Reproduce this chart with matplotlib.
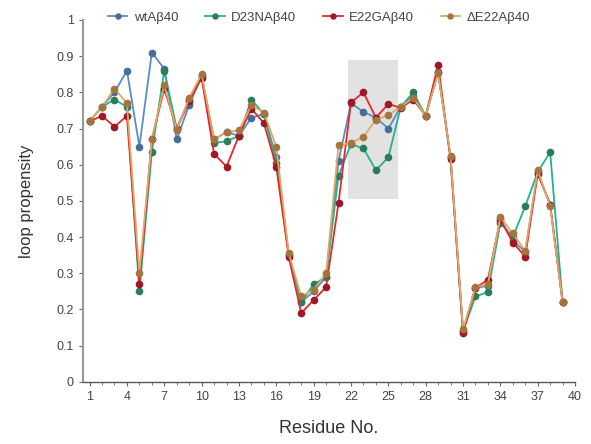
import matplotlib
matplotlib.use("Agg")
import matplotlib.pyplot as plt
from matplotlib.patches import Rectangle
from matplotlib.ticker import MultipleLocator

plt.rcParams["font.family"] = ["Liberation Sans", "DejaVu Sans"]

residues = list(range(1, 40))

wt = [0.72, 0.76, 0.80, 0.86, 0.65, 0.91, 0.865, 0.67, 0.765, 0.845,
      0.67, 0.69, 0.68, 0.73, 0.74, 0.62, 0.35, 0.22, 0.25, 0.29,
      0.61, 0.77, 0.746, 0.73, 0.70, 0.76, 0.79, 0.735, 0.855, 0.62,
      0.14, 0.26, 0.265, 0.445, 0.39, 0.36, 0.58, 0.49, 0.22]

d23n = [0.72, 0.76, 0.78, 0.76, 0.25, 0.635, 0.86, 0.70, 0.78, 0.845,
        0.66, 0.665, 0.68, 0.78, 0.74, 0.605, 0.35, 0.22, 0.27, 0.29,
        0.57, 0.657, 0.645, 0.585, 0.62, 0.76, 0.80, 0.735, 0.855, 0.62,
        0.14, 0.236, 0.248, 0.44, 0.40, 0.485, 0.58, 0.635, 0.22]

e22g = [0.72, 0.735, 0.705, 0.735, 0.27, 0.67, 0.81, 0.70, 0.775, 0.84,
        0.63, 0.595, 0.68, 0.755, 0.715, 0.595, 0.345, 0.19, 0.226, 0.262,
        0.495, 0.772, 0.80, 0.73, 0.768, 0.757, 0.78, 0.735, 0.876, 0.615,
        0.135, 0.26, 0.282, 0.45, 0.385, 0.346, 0.575, 0.49, 0.22]

de22 = [0.72, 0.76, 0.81, 0.77, 0.30, 0.67, 0.82, 0.696, 0.785, 0.85,
        0.67, 0.69, 0.695, 0.765, 0.744, 0.65, 0.355, 0.236, 0.255, 0.30,
        0.655, 0.66, 0.677, 0.724, 0.737, 0.76, 0.785, 0.735, 0.853, 0.625,
        0.145, 0.262, 0.27, 0.455, 0.41, 0.362, 0.585, 0.485, 0.22]

labels = ["wtAβ40", "D23NAβ40", "E22GAβ40", "ΔE22Aβ40"]
line_colors = ["#5b8cc6", "#22b48a", "#e8262a", "#e2a865"]
marker_colors = ["#476e98", "#2c7c5a", "#9c1a27", "#a6743f"]

fig = plt.figure(figsize=(5.91, 4.44), dpi=100)
ax = fig.add_axes([0.14, 0.14, 0.833, 0.815])

# highlighted region around residues 22-25
ax.add_patch(Rectangle((21.8, 0.505), 3.95, 0.385, facecolor="#e2e2e2",
                       edgecolor="none", zorder=0))

series = [wt, d23n, e22g, de22]
for vals, lab, lc, mc in zip(series, labels, line_colors, marker_colors):
    ax.plot(residues, vals, color=lc, linewidth=1.3, marker="o",
            markersize=4.5, markerfacecolor=mc, markeredgecolor=mc,
            label=lab, zorder=2)

ax.set_xlim(0.45, 40)
ax.set_ylim(0, 1)
ax.set_xticks(list(range(1, 41, 3)))
ax.xaxis.set_minor_locator(MultipleLocator(1))
ax.set_yticks([i / 10 for i in range(11)])
ax.set_yticklabels(["0", "0.1", "0.2", "0.3", "0.4", "0.5", "0.6",
                    "0.7", "0.8", "0.9", "1"])

for s in ["top", "right"]:
    ax.spines[s].set_visible(False)
ax.spines["left"].set_color("#999999")
ax.spines["left"].set_linewidth(1.5)
ax.spines["bottom"].set_color("#555555")
ax.spines["bottom"].set_linewidth(1.0)

ax.tick_params(axis="both", which="major", direction="out", length=3,
               labelsize=9, labelcolor="#444444", color="#666666")
ax.tick_params(axis="x", which="minor", direction="out", length=2,
               color="#666666")

ax.set_xlabel("Residue No.", fontsize=13, color="#333333", labelpad=12)
ax.set_ylabel("loop propensity", fontsize=12, color="#333333", labelpad=16)

leg = ax.legend(loc="lower center", bbox_to_anchor=(0.48, 0.975), ncol=4,
                frameon=False, fontsize=9.5, handlelength=1.5,
                handletextpad=0.5, columnspacing=2.0, borderaxespad=0,
                markerscale=0.8)
for t in leg.get_texts():
    t.set_color("#444444")

fig.savefig("out.png", dpi=100)
